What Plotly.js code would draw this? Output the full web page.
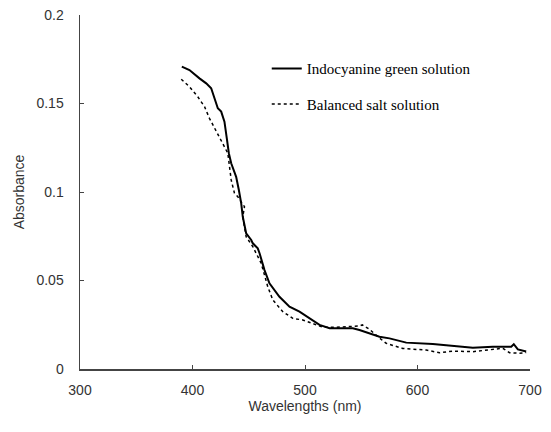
<!DOCTYPE html>
<html>
<head>
<meta charset="utf-8">
<script src="https://cdn.plot.ly/plotly-3.0.1.min.js"></script>
<style>html,body{margin:0;padding:0;background:#fff}#chart{width:551px;height:432px}</style>
</head>
<body>
<div id="chart"></div>
<script>
// Indocyanine green solution
const icgWavelength = [390.5,397.3,406.2,412.2,416.6,419.6,422.5,425.5,428.4,430.5,432.3,434.4,438.8,441.2,443.3,444.7,447.7,452.2,453.6,458.0,459.6,464.0,468.4,477.3,486.2,495.1,504.0,512.9,521.8,542.5,548.4,566.2,575.1,590.0,613.6,628.4,649.2,666.9,683.3,685.6,689.2,696.6];
const icgAbsorbance = [0.1708,0.1689,0.1642,0.1614,0.1586,0.1529,0.1473,0.1454,0.1397,0.1303,0.1219,0.1162,0.1086,0.1011,0.0936,0.0860,0.0767,0.0729,0.0710,0.0682,0.0654,0.0559,0.0484,0.0408,0.0352,0.0324,0.0286,0.0249,0.0230,0.0230,0.0220,0.0182,0.0173,0.0149,0.0141,0.0132,0.0120,0.0126,0.0126,0.0140,0.0111,0.0099];
// Balanced salt solution
const bssWavelength = [390.0,397.3,404.7,410.7,415.1,421.1,426.9,431.4,434.4,437.3,440.3,446.2,444.7,447.7,453.6,455.1,461.1,466.9,471.4,480.3,489.2,498.0,506.9,515.8,527.7,539.6,548.4,551.0,557.3,566.2,572.2,586.9,607.7,619.6,631.4,649.2,666.9,675.8,681.8,690.7,696.6];
const bssAbsorbance = [0.1637,0.1595,0.1538,0.1482,0.1416,0.1341,0.1275,0.1219,0.1068,0.0993,0.0973,0.0917,0.0860,0.0747,0.0691,0.0672,0.0597,0.0465,0.0390,0.0324,0.0286,0.0277,0.0258,0.0236,0.0236,0.0239,0.0243,0.0249,0.0224,0.0175,0.0145,0.0116,0.0107,0.0092,0.0101,0.0098,0.0111,0.0117,0.0092,0.0089,0.0093];
const seriesNames = ["Indocyanine green solution", "Balanced salt solution"];
const xTicks = [300,400,500,600,700];
const yTicks = [0,0.05,0.1,0.15,0.2];
const yTickText = ["0","0.05","0.1","0.15","0.2"];

const traces = [
  {x: icgWavelength, y: icgAbsorbance, name: seriesNames[0], mode: "lines", legendgroup: "a",
   line: {color: "#000", width: 2}},
  {x: bssWavelength, y: bssAbsorbance, name: seriesNames[1], mode: "lines", legendgroup: "b",
   line: {color: "#000", width: 1.5, dash: "dot"}}
];
const axisFont = {family: "Liberation Sans, Arial, sans-serif", size: 14, color: "#333"};
const layout = {
  width: 551, height: 432,
  margin: {l: 80, r: 21, t: 15, b: 63},
  paper_bgcolor: "#fff", plot_bgcolor: "#fff",
  showlegend: true,
  legend: {x: 0.415, y: 0.895, xanchor: "left", yanchor: "top", bgcolor: "rgba(0,0,0,0)",
    font: {family: "Liberation Serif, Times New Roman, serif", size: 15, color: "#000"},
    traceorder: "grouped", tracegroupgap: 13},
  xaxis: {range: [300, 700], tickvals: xTicks, ticktext: xTicks.map(String),
    showline: true, linecolor: "#444", linewidth: 1.5, ticks: "inside", ticklen: 4, tickcolor: "#444",
    showgrid: false, zeroline: false, tickfont: axisFont, ticklabelstandoff: 8,
    title: {text: "Wavelengths (nm)", font: axisFont, standoff: 4}},
  yaxis: {range: [0, 0.2], tickvals: yTicks, ticktext: yTickText,
    showline: true, linecolor: "#444", linewidth: 1.5, ticks: "inside", ticklen: 4, tickcolor: "#444",
    showgrid: false, zeroline: false, tickfont: axisFont, ticklabelstandoff: 12,
    title: {text: "Absorbance", font: axisFont, standoff: 8}}
};
Plotly.newPlot("chart", traces, layout, {displayModeBar: false, staticPlot: true});
</script>
</body>
</html>
